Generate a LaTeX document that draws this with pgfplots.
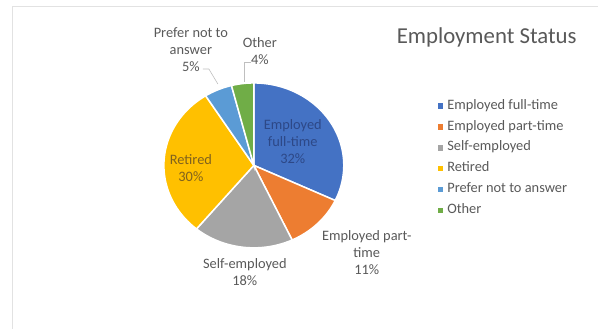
\documentclass[border=0pt]{standalone}
\usepackage{fontspec}
\setmainfont{Carlito}
\usepackage{pgfplots}
\usepackage{pgfplotstable}
\pgfplotsset{compat=1.18}
\definecolor{cFull}{HTML}{4472C4}
\definecolor{cPart}{HTML}{ED7D31}
\definecolor{cSelf}{HTML}{A5A5A5}
\definecolor{cRet}{HTML}{FFC000}
\definecolor{cPref}{HTML}{5B9BD5}
\definecolor{cOther}{HTML}{70AD47}
\definecolor{txt}{HTML}{595959}
\definecolor{txtBlue}{RGB}{45,72,135}
\definecolor{txtRet}{RGB}{128,98,30}
\definecolor{frame}{HTML}{E2E2E2}

\pgfplotstableread{
label pct
Employed-full-time 32
Employed-part-time 11
Self-employed 18
Retired 30
Prefer-not-to-answer 5
Other 4
}\piedata

\newcommand{\lbl}{\fontsize{14.4}{17}\selectfont}
\pgfplotsset{pieleg/.style={legend image code/.code={\path[#1,draw=none] (0pt,-2.7pt) rectangle (5.4pt,2.7pt);}}}

\begin{document}
\begin{tikzpicture}
\pgfplotstablegetelem{0}{pct}\of\piedata \let\pA\pgfplotsretval
\pgfplotstablegetelem{1}{pct}\of\piedata \let\pB\pgfplotsretval
\pgfplotstablegetelem{2}{pct}\of\piedata \let\pC\pgfplotsretval
\pgfplotstablegetelem{3}{pct}\of\piedata \let\pD\pgfplotsretval
\pgfplotstablegetelem{4}{pct}\of\piedata \let\pE\pgfplotsretval
\pgfplotstablegetelem{5}{pct}\of\piedata \let\pF\pgfplotsretval
\pgfmathsetmacro\aA{90}
\pgfmathsetmacro\aB{\aA-3.6*\pA}
\pgfmathsetmacro\aC{\aB-3.6*\pB}
\pgfmathsetmacro\aD{\aC-3.6*\pC}
\pgfmathsetmacro\aE{\aD-3.6*\pD}
\pgfmathsetmacro\aF{\aE-3.6*\pE}
\pgfmathsetmacro\aG{\aF-3.6*\pF}
\begin{axis}[
  width=598pt, height=329pt, scale only axis,
  xmin=0, xmax=598, ymin=0, ymax=329, y dir=reverse,
  hide axis, clip=false,
  legend style={at={(axis cs:435,98)}, anchor=north west, draw=none, fill=none,
    font=\lbl, text=txt, row sep=8.9pt,
    nodes={inner sep=1pt, text height=8pt, text depth=2pt},
    /tikz/every odd column/.append style={column sep=3pt}},
  legend cell align=left,
  pieleg,
]
\path (axis cs:0,0) rectangle (axis cs:598,329);
\draw[frame, line width=0.8pt] (axis cs:12,329) -- (axis cs:12,6) -- (axis cs:598,6);

\addplot[fill=cFull, draw=white, line width=1.5pt, domain=\aB:\aA, samples=80, variable=\t]
  ({254+90*cos(\t)},{165.5-82.5*sin(\t)}) -- (axis cs:254,165.5) -- cycle;
\addlegendentry{Employed full-time}
\addplot[fill=cPart, draw=white, line width=1.5pt, domain=\aC:\aB, samples=40, variable=\t]
  ({254+90*cos(\t)},{165.5-82.5*sin(\t)}) -- (axis cs:254,165.5) -- cycle;
\addlegendentry{Employed part-time}
\addplot[fill=cSelf, draw=white, line width=1.5pt, domain=\aD:\aC, samples=50, variable=\t]
  ({254+90*cos(\t)},{165.5-82.5*sin(\t)}) -- (axis cs:254,165.5) -- cycle;
\addlegendentry{Self-employed}
\addplot[fill=cRet, draw=white, line width=1.5pt, domain=\aE:\aD, samples=80, variable=\t]
  ({254+90*cos(\t)},{165.5-82.5*sin(\t)}) -- (axis cs:254,165.5) -- cycle;
\addlegendentry{Retired}
\addplot[fill=cPref, draw=white, line width=1.5pt, domain=\aF:\aE, samples=20, variable=\t]
  ({254+90*cos(\t)},{165.5-82.5*sin(\t)}) -- (axis cs:254,165.5) -- cycle;
\addlegendentry{Prefer not to answer}
\addplot[fill=cOther, draw=white, line width=1.5pt, domain=\aG:\aF, samples=20, variable=\t]
  ({254+90*cos(\t)},{165.5-82.5*sin(\t)}) -- (axis cs:254,165.5) -- cycle;
\addlegendentry{Other}

% labels
\node[font=\lbl, text=txtBlue, align=center] at (axis cs:293,142) {Employed\\full-time\\32\%};
\node[font=\lbl, text=txtRet, align=center] at (axis cs:191,168) {Retired\\30\%};
\node[font=\lbl, text=txt, align=center] at (axis cs:367,253) {Employed part-\\time\\11\%};
\node[font=\lbl, text=txt, align=center] at (axis cs:245,272) {Self-employed\\18\%};
\node[font=\lbl, text=txt, align=center] at (axis cs:191,50) {Prefer not to\\answer\\5\%};
\node[font=\lbl, text=txt, align=center] at (axis cs:260,51.5) {Other\\4\%};
\draw[gray!50, line width=0.6pt] (axis cs:203,69) -- (axis cs:209,69) -- (axis cs:218,84);
\draw[gray!50, line width=0.6pt] (axis cs:251,62) -- (axis cs:244,62) -- (axis cs:244,82);

\node[font=\fontsize{22.8}{26}\selectfont, text=txt] at (axis cs:487,37) {Employment Status};
\end{axis}
\end{tikzpicture}
\end{document}
